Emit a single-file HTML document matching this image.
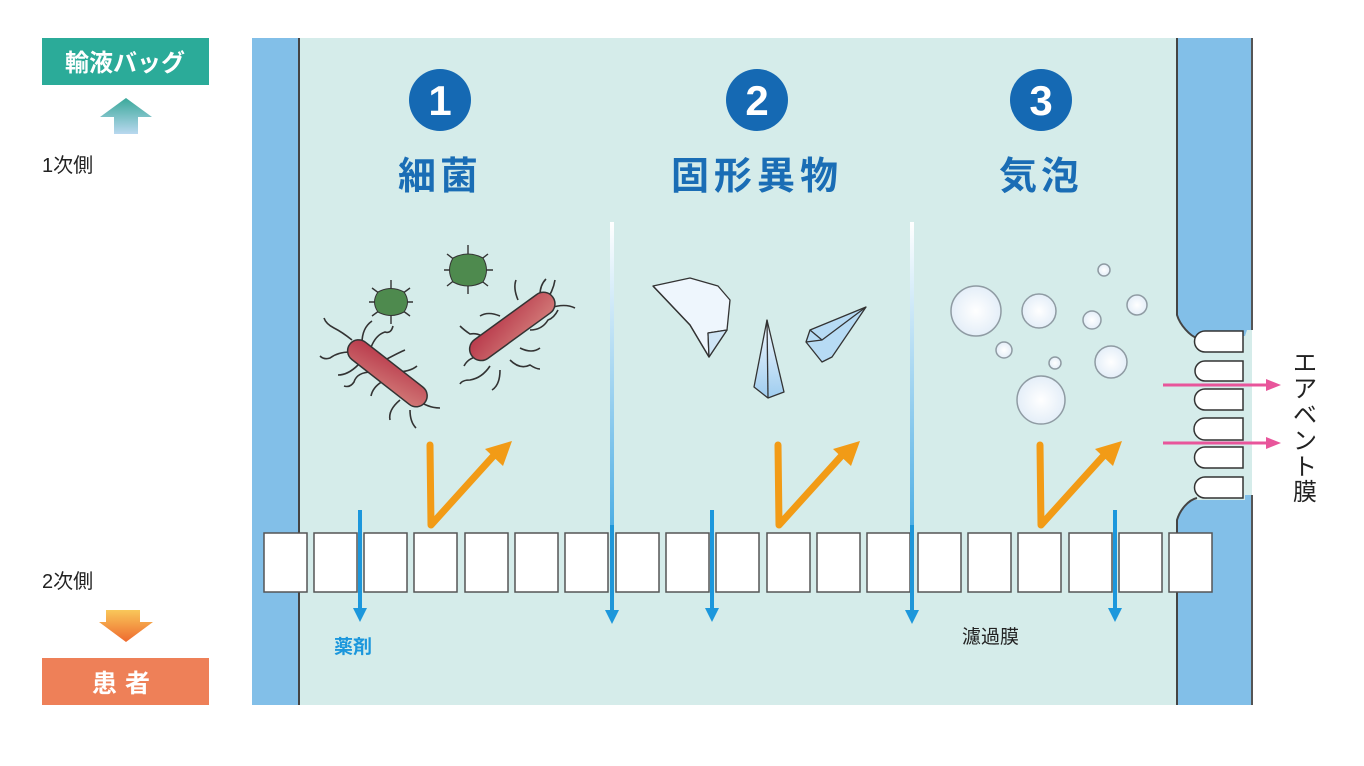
<!DOCTYPE html>
<html><head><meta charset="utf-8"><style>
html,body{margin:0;padding:0;background:#fff;width:1364px;height:766px;overflow:hidden}
svg{display:block}
text{font-family:"Liberation Sans","Noto Sans CJK JP",sans-serif}
</style></head><body>
<svg width="1364" height="766" viewBox="0 0 1364 766" xmlns="http://www.w3.org/2000/svg">
<defs>
<linearGradient id="vg" x1="0" y1="0" x2="0" y2="1"><stop offset="0" stop-color="#ffffff"/><stop offset="1" stop-color="#1c97dc"/></linearGradient>
<linearGradient id="up" x1="0" y1="0" x2="0" y2="1"><stop offset="0" stop-color="#3aa89a"/><stop offset="1" stop-color="#b9d8ef"/></linearGradient>
<linearGradient id="dn" x1="0" y1="0" x2="0" y2="1"><stop offset="0" stop-color="#f9c75a"/><stop offset="1" stop-color="#ee6a2f"/></linearGradient>
<radialGradient id="bub" cx="0.5" cy="0.5" r="0.5"><stop offset="0" stop-color="#fff"/><stop offset="1" stop-color="#e4eef8"/></radialGradient>
<linearGradient id="bac" x1="0" y1="0" x2="1" y2="1"><stop offset="0" stop-color="#b8384a"/><stop offset="1" stop-color="#d27a78"/></linearGradient>
<linearGradient id="cry" x1="0" y1="0" x2="0" y2="1"><stop offset="0" stop-color="#f4f9fe"/><stop offset="1" stop-color="#9fcdef"/></linearGradient>
</defs>

<!-- left labels -->
<rect x="42" y="38" width="167" height="47" fill="#2bab99"/>
<text x="125" y="71" font-size="24" font-weight="bold" fill="#fff" text-anchor="middle">輸液バッグ</text>
<polygon points="126,98 152,117 138,117 138,134 114,134 114,117 100,117" fill="url(#up)"/>
<text x="42" y="172" font-size="20" fill="#222">1次側</text>
<text x="42" y="588" font-size="20" fill="#222">2次側</text>
<polygon points="106,610 140,610 140,622 153,622 126,642 99,622 106,622" fill="url(#dn)"/>
<rect x="42" y="658" width="167" height="47" fill="#ee8058"/>
<text x="125" y="692" font-size="25" font-weight="bold" fill="#fff" text-anchor="middle" letter-spacing="8">患者</text>

<!-- main area -->
<rect x="252" y="38" width="1000" height="667" fill="#d5ecea"/>
<rect x="252" y="38" width="47" height="667" fill="#82bfe8"/>
<line x1="299" y1="38" x2="299" y2="705" stroke="#444" stroke-width="2"/>
<!-- right wall with notch -->
<path d="M1177,38 H1252 V330 H1247 L1245,336 H1195 C1190,336 1180,325 1177,315 Z" fill="#82bfe8"/>
<path d="M1177,705 H1252 V495 H1245 V500 H1195 C1188,500 1180,510 1177,520 Z" fill="#82bfe8"/>
<path d="M1177,38 V315 C1180,325 1190,336 1197,338" fill="none" stroke="#444" stroke-width="2"/>
<path d="M1177,705 V520 C1180,510 1188,500 1197,498" fill="none" stroke="#444" stroke-width="2"/>
<line x1="1252" y1="38" x2="1252" y2="330" stroke="#555" stroke-width="2"/>
<line x1="1252" y1="495" x2="1252" y2="705" stroke="#555" stroke-width="2"/>
<rect x="1250" y="330" width="2" height="165" fill="#d5ecea"/>
<!-- capsules -->
<g fill="#fff" stroke="#333" stroke-width="1.5">
<path d="M1243,331 H1205 a10,10 0 0 0 0,21 H1243 Z"/>
<path d="M1243,361 H1205 a10,10 0 0 0 0,20 H1243 Z"/>
<path d="M1243,389 H1205 a10,10 0 0 0 0,21 H1243 Z"/>
<path d="M1243,418 H1205 a10,10 0 0 0 0,22 H1243 Z"/>
<path d="M1243,447 H1205 a10,10 0 0 0 0,21 H1243 Z"/>
<path d="M1243,477 H1205 a10,10 0 0 0 0,21 H1243 Z"/>
</g>
<g fill="#e8559b" stroke="#e8559b">
<line x1="1163" y1="385" x2="1268" y2="385" stroke-width="3"/>
<polygon points="1266,379 1281,385 1266,391" stroke="none"/>
<line x1="1163" y1="443" x2="1268" y2="443" stroke-width="3"/>
<polygon points="1266,437 1281,443 1266,449" stroke="none"/>
</g>
<g font-size="24" fill="#222" text-anchor="middle">
<text x="1305" y="371">エ</text><text x="1305" y="397">ア</text><text x="1305" y="423">ベ</text><text x="1305" y="449">ン</text><text x="1305" y="475">ト</text><text x="1305" y="500">膜</text>
</g>

<!-- headings -->
<g fill="#1569b3"><circle cx="440" cy="100" r="31"/><circle cx="757" cy="100" r="31"/><circle cx="1041" cy="100" r="31"/></g>
<g font-size="42" font-weight="bold" fill="#fff" text-anchor="middle">
<text x="440" y="115">1</text><text x="757" y="115">2</text><text x="1041" y="115">3</text></g>
<g font-size="38" font-weight="bold" fill="#1a6db5" text-anchor="middle">
<text x="440" y="189" letter-spacing="4">細菌</text>
<text x="757" y="189" letter-spacing="5">固形異物</text>
<text x="1041" y="189" letter-spacing="4">気泡</text></g>

<!-- long gradient arrows -->
<rect x="610" y="222" width="4" height="392" fill="url(#vg)"/>
<polygon points="605,610 619,610 612,624" fill="#1c97dc"/>
<rect x="910" y="222" width="4" height="392" fill="url(#vg)"/>
<polygon points="905,610 919,610 912,624" fill="#1c97dc"/>

<!-- membrane boxes -->
<g fill="#fff" stroke="#555" stroke-width="1.5">
<rect x="264" y="533" width="43" height="59"/><rect x="314" y="533" width="43" height="59"/><rect x="364" y="533" width="43" height="59"/><rect x="414" y="533" width="43" height="59"/><rect x="465" y="533" width="43" height="59"/><rect x="515" y="533" width="43" height="59"/><rect x="565" y="533" width="43" height="59"/><rect x="616" y="533" width="43" height="59"/><rect x="666" y="533" width="43" height="59"/><rect x="716" y="533" width="43" height="59"/><rect x="767" y="533" width="43" height="59"/><rect x="817" y="533" width="43" height="59"/><rect x="867" y="533" width="43" height="59"/><rect x="918" y="533" width="43" height="59"/><rect x="968" y="533" width="43" height="59"/><rect x="1018" y="533" width="43" height="59"/><rect x="1069" y="533" width="43" height="59"/><rect x="1119" y="533" width="43" height="59"/><rect x="1169" y="533" width="43" height="59"/>
</g>
<!-- redraw long arrows over boxes -->
<rect x="610" y="525" width="4" height="89" fill="#1f96d8"/>
<rect x="910" y="525" width="4" height="89" fill="#1f96d8"/>
<!-- short blue arrows -->
<g fill="#1c97dc">
<rect x="358" y="510" width="4" height="102"/><polygon points="353,608 367,608 360,622"/>
<rect x="710" y="510" width="4" height="102"/><polygon points="705,608 719,608 712,622"/>
<rect x="1113" y="510" width="4" height="102"/><polygon points="1108,608 1122,608 1115,622"/>
</g>

<!-- orange check arrows -->
<g fill="none" stroke="#f29b16" stroke-width="7" stroke-linejoin="round" stroke-linecap="round">
<path d="M430,445 L431,525 L497,452"/>
<path d="M778,445 L779,525 L845,452"/>
<path d="M1040,445 L1041,525 L1107,452"/>
</g>
<g fill="#f29b16">
<polygon points="512,441 485,449 503,466"/>
<polygon points="860,441 833,449 851,466"/>
<polygon points="1122,441 1095,449 1113,466"/>
</g>

<!-- bacteria -->
<g stroke="#333" stroke-width="1.6" fill="none">
<path d="M352,340 q-10,-8 -18,-12 q-8,-4 -10,-10"/><path d="M350,352 q-12,0 -20,6 q-6,2 -10,-2"/>
<path d="M362,343 q0,-15 10,-22"/><path d="M370,350 q5,-15 15,-18 q6,2 8,-6"/>
<path d="M385,360 q15,-8 20,-10"/><path d="M395,372 q15,0 22,-6"/>
<path d="M405,386 q10,10 22,8"/><path d="M415,398 q12,10 25,10"/>
<path d="M410,410 q0,12 6,18"/><path d="M400,400 q-12,10 -10,20"/>
<path d="M385,380 q-12,6 -14,16"/><path d="M372,372 q-15,0 -18,10 q-4,6 -10,4"/>
<path d="M358,365 q-10,10 -20,10"/>
<path d="M490,342 q-10,-10 -20,-8 q-6,-4 -10,-8"/><path d="M484,356 q-15,0 -20,10"/>
<path d="M490,366 q-8,12 -20,14 q-8,0 -10,4"/><path d="M500,370 q0,15 -8,20"/>
<path d="M510,360 q10,10 20,5 q6,4 10,4"/><path d="M520,348 q12,6 20,0"/>
<path d="M530,330 q12,0 18,-10 q6,-2 10,-10"/><path d="M545,302 q8,-10 10,-22"/>
<path d="M550,308 q15,-5 25,0"/><path d="M540,295 q0,-10 6,-16"/>
<path d="M518,300 q-5,-12 -2,-20"/><path d="M500,316 q-12,-5 -20,0"/>
</g>
<rect x="340" y="362" width="95" height="22" rx="11" fill="url(#bac)" stroke="#333" stroke-width="1.5" transform="rotate(38 387 373)"/>
<rect x="462" y="315" width="100" height="23" rx="11.5" fill="url(#bac)" stroke="#333" stroke-width="1.5" transform="rotate(-36 512 326)"/>
<g stroke="#333" stroke-width="1.4">
<line x1="372" y1="288" x2="410" y2="316"/><line x1="410" y1="288" x2="372" y2="316"/><line x1="391" y1="280" x2="391" y2="324"/><line x1="369" y1="302" x2="413" y2="302"/>
<line x1="447" y1="254" x2="488" y2="286"/><line x1="488" y1="254" x2="447" y2="286"/><line x1="468" y1="245" x2="468" y2="294"/><line x1="444" y1="270" x2="493" y2="270"/>
</g>
<g fill="#4e8a4e" stroke="#333" stroke-width="1">
<path d="M378,292 q13,-7 26,0 q7,10 0,20 q-13,7 -26,0 q-7,-10 0,-20 Z"/>
<path d="M453,258 q15,-8 30,0 q7,12 0,24 q-15,8 -30,0 q-7,-12 0,-24 Z"/>
</g>

<!-- crystals -->
<g stroke="#333" stroke-width="1.3" stroke-linejoin="round">
<path d="M653,286 L690,278 L718,286 L730,300 L727,330 L709,357 L690,325 Z" fill="#eef6fd"/>
<path d="M653,286 L690,325 L709,357 L708,333 L727,330" fill="none"/>
<path d="M708,333 L709,357 L727,330 Z" fill="#cfe5f6"/>
<path d="M767,320 L754,387 L768,398 L784,392 Z" fill="url(#cry)"/>
<path d="M767,320 L768,398" fill="none"/>
<path d="M866,307 L810,330 L806,342 L822,362 L832,357 Z" fill="#b7dbf4"/>
<path d="M810,330 L822,340 L806,342 M822,340 L866,307" fill="none"/>
</g>

<!-- bubbles -->
<g fill="url(#bub)" stroke="#8f9ba3" stroke-width="1.5">
<circle cx="976" cy="311" r="25"/><circle cx="1039" cy="311" r="17"/><circle cx="1104" cy="270" r="6"/>
<circle cx="1092" cy="320" r="9"/><circle cx="1137" cy="305" r="10"/><circle cx="1004" cy="350" r="8"/>
<circle cx="1055" cy="363" r="6"/><circle cx="1111" cy="362" r="16"/><circle cx="1041" cy="400" r="24"/>
</g>

<!-- labels -->
<text x="334" y="653" font-size="19" font-weight="bold" fill="#1c97dc">薬剤</text>
<text x="962" y="643" font-size="19" fill="#222">濾過膜</text>
</svg>
</body></html>
